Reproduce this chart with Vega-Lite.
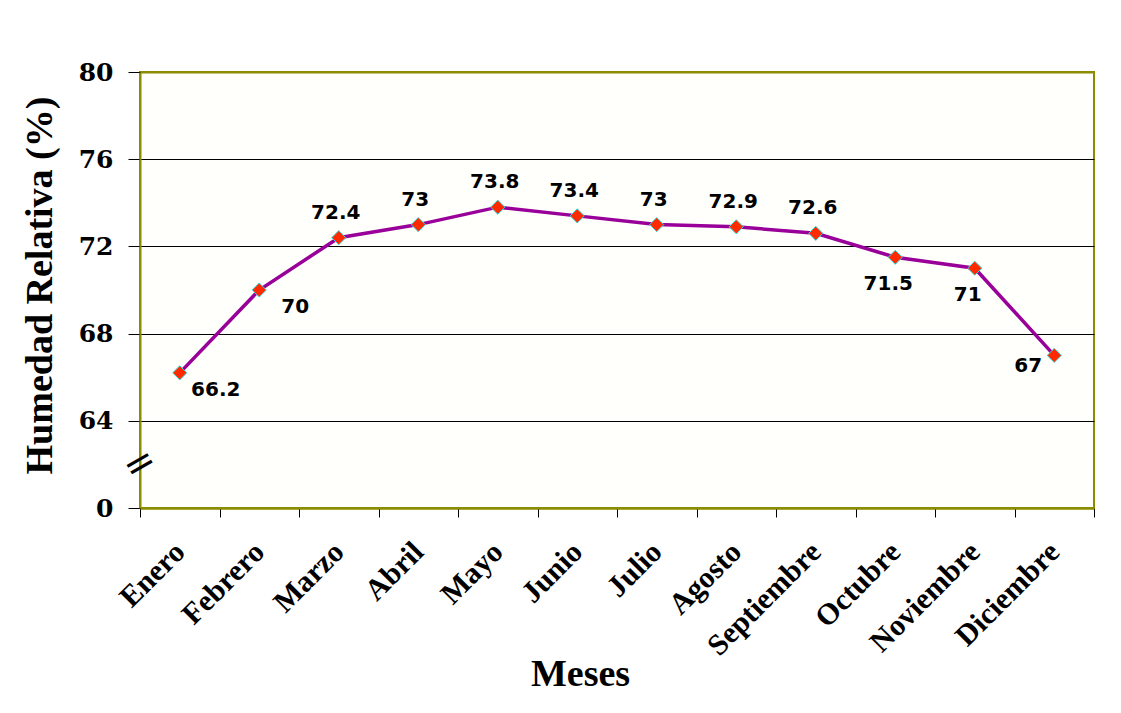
{
  "$schema": "https://vega.github.io/schema/vega-lite/v6.json",
  "width": 954,
  "height": 436,
  "autosize": {"type": "none"},
  "padding": {"left": 140, "top": 72, "right": 27, "bottom": 205},
  "background": "#ffffff",
  "config": {
    "view": {"stroke": "#8C8C00", "strokeWidth": 2, "fill": "#FFFFFC"}
  },
  "data": {
    "values": [
      {"mes": "Enero", "hr": 66.2},
      {"mes": "Febrero", "hr": 70},
      {"mes": "Marzo", "hr": 72.4},
      {"mes": "Abril", "hr": 73},
      {"mes": "Mayo", "hr": 73.8},
      {"mes": "Junio", "hr": 73.4},
      {"mes": "Julio", "hr": 73},
      {"mes": "Agosto", "hr": 72.9},
      {"mes": "Septiembre", "hr": 72.6},
      {"mes": "Octubre", "hr": 71.5},
      {"mes": "Noviembre", "hr": 71},
      {"mes": "Diciembre", "hr": 67}
    ]
  },
  "encoding": {
    "x": {
      "field": "mes", "type": "nominal", "sort": null,
      "scale": {"paddingInner": 0, "paddingOuter": 0},
      "axis": {
        "title": "Meses",
        "tickBand": "extent",
        "domainColor": "#8C8C00", "domainWidth": 2,
        "tickColor": "#000000", "tickSize": 9, "tickWidth": 1,
        "grid": false,
        "labelAngle": -45, "labelAlign": "right", "labelBaseline": "middle",
        "labelPadding": 30,
        "labelFont": "Liberation Serif", "labelFontStyle": "normal", "labelFontWeight": "bold",
        "labelFontSize": 30, "labelColor": "#000000",
        "titleFont": "Liberation Serif", "titleFontWeight": "bold", "titleFontSize": 38,
        "titleColor": "#000000",
        "titleX": 440, "titleY": 177, "titleAlign": "center", "titleBaseline": "alphabetic"
      }
    },
    "y": {
      "field": "hr", "type": "quantitative",
      "scale": {"domain": [60, 80], "nice": false, "zero": false},
      "axis": {
        "title": "Humedad Relativa (%)",
        "values": [60, 64, 68, 72, 76, 80],
        "labelExpr": "datum.value == 60 ? '0' : datum.label",
        "grid": true,
        "gridColor": {"condition": {"test": "datum.value == 80 || datum.value == 60", "value": "#8C8C00"}, "value": "#000000"},
        "gridWidth": {"condition": {"test": "datum.value == 80 || datum.value == 60", "value": 2}, "value": 1},
        "domainColor": "#8C8C00", "domainWidth": 2,
        "tickColor": "#000000", "tickSize": 12, "tickWidth": 1,
        "labelPadding": 15,
        "labelFont": "DejaVu Serif", "labelFontWeight": "bold", "labelFontSize": 25,
        "labelColor": "#000000",
        "titleFont": "Liberation Serif", "titleFontWeight": "bold", "titleFontSize": 38,
        "titleColor": "#000000",
        "titleX": -100, "titleY": 213, "titleAngle": -90, "titleAlign": "center", "titleBaseline": "middle"
      }
    }
  },
  "layer": [
    {
      "mark": {"type": "line", "color": "#990099", "strokeWidth": 3.5}
    },
    {
      "mark": {"type": "point", "shape": "diamond", "filled": true, "fill": "#FF2A00", "stroke": "#33DDDD", "strokeWidth": 1, "size": 200, "opacity": 1}
    },
    {
      "transform": [{"filter": {"field": "mes", "oneOf": ["Marzo", "Abril", "Mayo", "Junio", "Julio", "Agosto", "Septiembre"]}}],
      "mark": {"type": "text", "font": "DejaVu Sans", "fontWeight": "bold", "fontSize": 20, "color": "#000000", "dy": -25, "dx": -3, "baseline": "middle"},
      "encoding": {"text": {"field": "hr", "type": "quantitative"}}
    },
    {
      "transform": [{"filter": {"field": "mes", "oneOf": ["Enero", "Febrero"]}}],
      "mark": {"type": "text", "font": "DejaVu Sans", "fontWeight": "bold", "fontSize": 20, "color": "#000000", "dx": 36, "dy": 17, "baseline": "middle"},
      "encoding": {"text": {"field": "hr", "type": "quantitative"}}
    },
    {
      "transform": [{"filter": {"field": "mes", "oneOf": ["Octubre", "Noviembre"]}}],
      "mark": {"type": "text", "font": "DejaVu Sans", "fontWeight": "bold", "fontSize": 20, "color": "#000000", "dx": -7, "dy": 27, "baseline": "middle"},
      "encoding": {"text": {"field": "hr", "type": "quantitative"}}
    },
    {
      "transform": [{"filter": {"field": "mes", "equal": "Diciembre"}}],
      "mark": {"type": "text", "font": "DejaVu Sans", "fontWeight": "bold", "fontSize": 20, "color": "#000000", "dx": -26, "dy": 11, "baseline": "middle"},
      "encoding": {"text": {"field": "hr", "type": "quantitative"}}
    },
    {
      "transform": [{"filter": {"field": "mes", "equal": "Enero"}}],
      "mark": {"type": "text", "text": "=", "font": "DejaVu Sans", "fontSize": 38, "angle": -30, "color": "#000000", "baseline": "middle", "align": "center"},
      "encoding": {
        "x": {"field": "mes", "type": "nominal", "sort": null, "bandPosition": 0},
        "y": {"datum": 62, "type": "quantitative"}
      }
    }
  ]
}
